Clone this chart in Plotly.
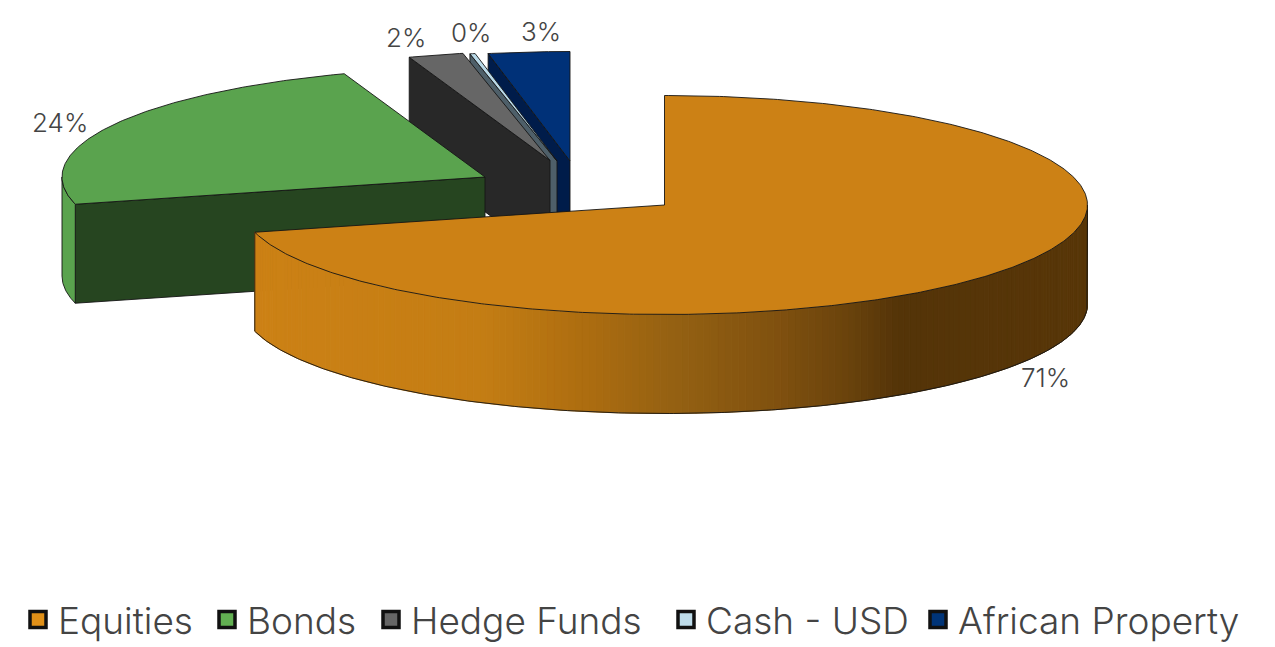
import numpy as np
import plotly.graph_objects as go

# Portfolio allocation, percent of total
categories = ["Equities", "Bonds", "Hedge Funds", "Cash - USD", "African Property"]
values = [71.0, 23.6, 2.1, 0.2, 3.1]

top_colors = ["#CC8115", "#5AA34E", "#666666", "#B9D9E8", "#003178"]
cut_colors = ["#5A3608", "#264520", "#282828", "#4E5F69", "#001C4A"]
legend_fill = ["#E09018", "#62B052", "#666666", "#BEDCEA", "#003478"]

# Apex of each exploded wedge on the drawing plane, and label anchors
apex_x = [664.5, 485, 550, 557, 570]
apex_y = [205, 177, 160.5, 161, 161]
label_x = [1045, 60, 406, 471, 541]
label_y = [377, 122, 37, 32, 31]
legend_x = [18, 207, 371, 666, 918]

RX, RY, DEPTH = 423.0, 109.5, 99.0
FONT = "Inter"
TEXT = "#444444"
EDGE = "#151515"

# Shading of the curved rim, as horizontal position to colour stops
rim_x = [255, 480, 580, 680, 780, 847, 897, 1087]
rim_rgb = [(204, 129, 21), (196, 125, 20), (174, 110, 16), (147, 96, 18),
           (127, 80, 15), (106, 67, 12), (84, 52, 8), (88, 54, 8)]


def arc(cx, cy, a0, a1, n=None):
    """Points on the elliptical rim, angle clockwise from 12 o'clock in degrees."""
    n = n or max(2, int(abs(a1 - a0) * 2) + 2)
    t = np.radians(np.linspace(a0, a1, n))
    return cx + RX * np.sin(t), cy - RY * np.cos(t)


def poly(fig, xs, ys, fill, edge=EDGE, width=0.9):
    fig.add_trace(go.Scatter(
        x=list(xs) + [xs[0]], y=list(ys) + [ys[0]],
        mode="lines", fill="toself", fillcolor=fill,
        line=dict(color=edge, width=width),
        hoverinfo="skip", showlegend=False,
    ))


fig = go.Figure()

ends = np.cumsum(values) / sum(values) * 360
starts = np.concatenate([[0], ends[:-1]])

# Rear slices first so the nearer ones overlap them
for i in [4, 3, 2, 1]:
    cx, cy = apex_x[i], apex_y[i]
    a0, a1 = starts[i], ends[i]
    # Cut face on the leading side of the wedge
    ex, ey = arc(cx, cy, a0, a0, 2)
    poly(fig, [cx, ex[0], ex[0], cx], [cy, ey[0], ey[0] + DEPTH, cy + DEPTH], cut_colors[i])
    # Outer wall, visible only where the rim faces the viewer
    lo, hi = max(a0, 180), min(a1, 270)
    if hi > lo:
        ox, oy = arc(cx, cy, lo, hi)
        poly(fig, list(ox) + list(ox[::-1]), list(oy) + list(oy[::-1] + DEPTH), top_colors[i])
    # Top surface
    ax, ay = arc(cx, cy, a0, a1)
    poly(fig, [cx] + list(ax), [cy] + list(ay), top_colors[i])

# Largest slice: curved wall shaded in narrow strips, then its outline and top
cx, cy = apex_x[0], apex_y[0]
a1 = ends[0]
edges = np.linspace(90, a1, 171)
for a, b in zip(edges[:-1], edges[1:]):
    sx, sy = arc(cx, cy, a, b, 4)
    mid = (sx[0] + sx[-1]) / 2
    rgb = [np.interp(mid, rim_x, [c[k] for c in rim_rgb]) for k in range(3)]
    col = "rgb({:.0f},{:.0f},{:.0f})".format(*rgb)
    poly(fig, list(sx) + list(sx[::-1]), list(sy) + list(sy[::-1] + DEPTH), col, edge=col, width=1)
wx, wy = arc(cx, cy, 90, a1)
fig.add_trace(go.Scatter(
    x=[wx[0]] + list(wx) + [wx[-1]],
    y=[wy[0]] + list(wy + DEPTH) + [wy[-1]],
    mode="lines", line=dict(color=EDGE, width=0.9),
    hoverinfo="skip", showlegend=False,
))
ax, ay = arc(cx, cy, 0, a1)
poly(fig, [cx] + list(ax), [cy] + list(ay), top_colors[0])

# One single-entry legend per category, so the row can be spaced freely
legends = {}
for i, name in enumerate(categories):
    key = "legend" if i == 0 else f"legend{i + 1}"
    fig.add_trace(go.Scatter(
        x=[None], y=[None], mode="markers", name=name, legend=key,
        marker=dict(symbol="square", size=16, color=legend_fill[i],
                    line=dict(color="#111111", width=3.5)),
        hoverinfo="skip", showlegend=True,
    ))
    legends[key] = dict(
        x=legend_x[i] / 1275, y=1 - 620 / 647, xanchor="left", yanchor="middle",
        bgcolor="rgba(0,0,0,0)", borderwidth=0,
        font=dict(family=FONT, size=37, color=TEXT, weight=300),
    )

for i, v in enumerate(values):
    fig.add_annotation(
        x=label_x[i], y=label_y[i], text=f"{v:.0f}%", showarrow=False,
        font=dict(family=FONT, size=26, color=TEXT, weight=300),
    )

fig.update_layout(
    width=1275, height=647,
    margin=dict(l=0, r=0, t=0, b=0, autoexpand=False),
    paper_bgcolor="white", plot_bgcolor="white",
    xaxis=dict(range=[0, 1275], visible=False, fixedrange=True),
    yaxis=dict(range=[647, 0], visible=False, fixedrange=True),
    **legends,
)

fig.write_html("out.html")
